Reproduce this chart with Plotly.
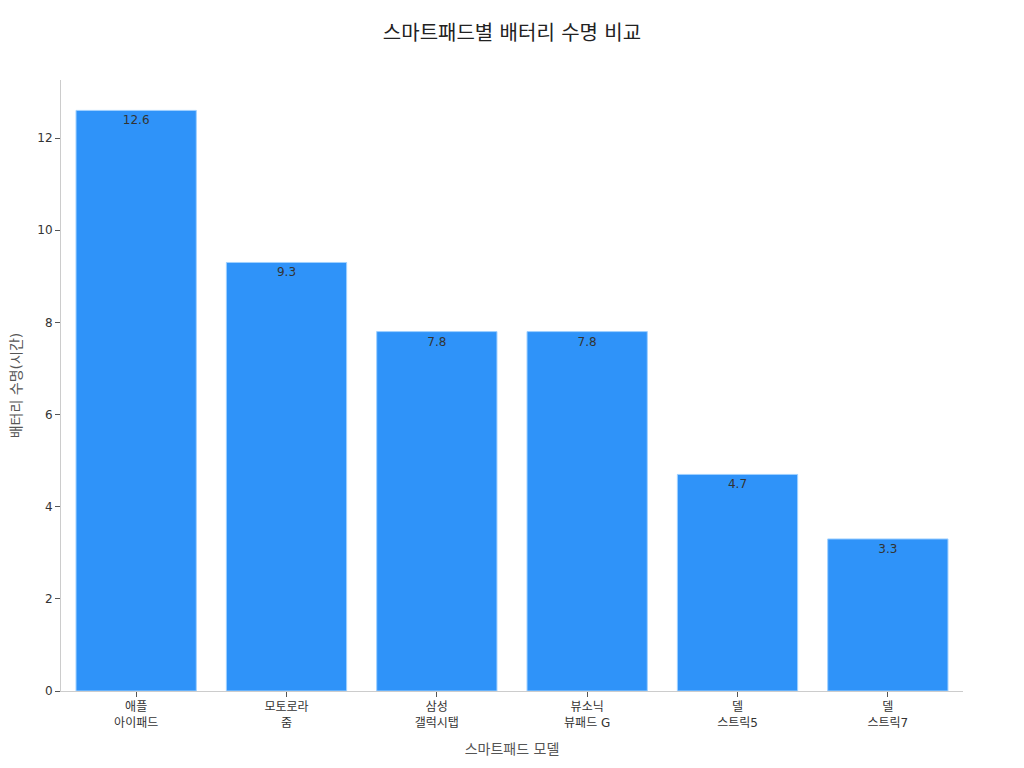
import plotly.graph_objects as go

# 데이터
models = ['애플<br>아이패드', '모토로라<br>줌', '삼성<br>갤럭시탭', '뷰소닉<br>뷰패드 G', '델<br>스트릭5', '델<br>스트릭7']
battery_hours = [12.6, 9.3, 7.8, 7.8, 4.7, 3.3]

fig = go.Figure()
fig.add_trace(go.Bar(
    x=models, y=battery_hours,
    text=battery_hours, textposition='inside', insidetextanchor='end',
    texttemplate='%{text}',
    textfont=dict(color='#333333', size=12),
    marker=dict(color='#2F93F9', line=dict(color='#9fd0ff', width=1)),
))

fig.update_layout(
    title=dict(text='스마트패드별 배터리 수명 비교', x=0.5, y=0.976, xanchor='center',
               font=dict(size=20, color='#222222')),
    font=dict(family='DejaVu Sans, Noto Sans CJK KR', size=12, color='#333333'),
    template='simple_white',
    margin=dict(l=53, r=53, t=72, b=69),
    bargap=0.2,
    showlegend=False,
    xaxis=dict(title=dict(text='스마트패드 모델', font=dict(size=14, color='#555555')),
               linecolor='#cccccc', tickcolor='#555555', ticklen=5, automargin=False),
    yaxis=dict(title=dict(text='배터리 수명(시간)', font=dict(size=14, color='#555555')),
               range=[0, 13.26], dtick=2, linecolor='#cccccc', tickcolor='#555555', ticklen=5,
               automargin=False),
)

fig.write_html("out.html")
